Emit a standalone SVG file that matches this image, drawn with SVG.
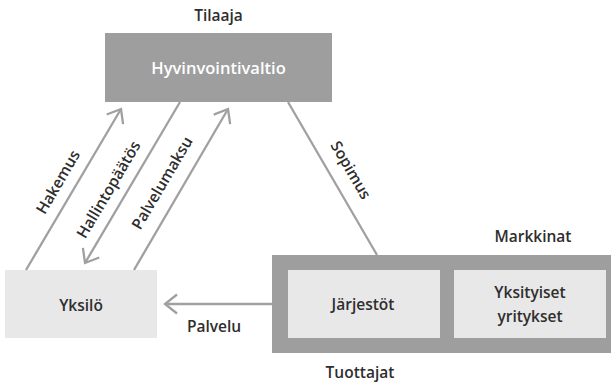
<svg xmlns="http://www.w3.org/2000/svg" width="611" height="385" viewBox="0 0 611 385">
  <style>
    text { font-family: "Open Sans", "Noto Sans", "DejaVu Sans", sans-serif; font-size: 15.5px; font-weight: 600; fill: #2e2e2e; text-anchor: middle; }
    .dark { fill: #9e9e9f; }
    .light { fill: #e8e8e8; }
    .white { fill: #ffffff; font-size: 16.5px; font-weight: 600; }
    .conn { stroke: #a0a0a1; stroke-width: 2.3; fill: none; }
  </style>
  <defs>
    <marker id="arr" markerUnits="userSpaceOnUse" markerWidth="30" markerHeight="30" refX="15" refY="15" orient="auto" viewBox="0 0 30 30">
      <path d="M 3 5.5 L 15 15 L 3 24.5" fill="none" stroke="#a0a0a1" stroke-width="2.3"/>
    </marker>
  </defs>

  <g id="tilaaja-label"><text x="218.5" y="21">Tilaaja</text></g>

  <g id="hyvinvointivaltio">
    <rect class="dark" x="105" y="33" width="227" height="69"/>
    <text class="white" x="218.5" y="74">Hyvinvointivaltio</text>
  </g>

  <g id="yksilo">
    <rect class="light" x="5" y="270" width="152" height="68"/>
    <text x="81" y="311">Yksilö</text>
  </g>

  <g id="tuottajat">
    <rect class="dark" x="272" y="255" width="350" height="98"/>
    <text x="360" y="378">Tuottajat</text>
  </g>

  <g id="markkinat-label"><text x="533" y="242">Markkinat</text></g>

  <g id="jarjestot">
    <rect class="light" x="288" y="270" width="152" height="68"/>
    <text x="363" y="310">Järjestöt</text>
  </g>

  <g id="yksityiset">
    <rect class="light" x="454" y="270" width="152" height="68"/>
    <text x="530" y="298">Yksityiset</text>
    <text x="530" y="322">yritykset</text>
  </g>

  <g id="connectors">
    <line class="conn" x1="26" y1="270" x2="121" y2="109" marker-end="url(#arr)"/>
    <line class="conn" x1="180" y1="102" x2="85" y2="263" marker-end="url(#arr)"/>
    <line class="conn" x1="134" y1="270" x2="228" y2="109" marker-end="url(#arr)"/>
    <line class="conn" x1="288" y1="102" x2="377" y2="255"/>
    <line class="conn" x1="272" y1="304" x2="165" y2="304" marker-end="url(#arr)"/>
    <text transform="translate(58,182) rotate(-59.5)" y="5.5">Hakemus</text>
    <text transform="translate(108.5,189.5) rotate(-59.5)" y="5.5">Hallintopäätös</text>
    <text transform="translate(162,183) rotate(-59.5)" y="5.5">Palvelumaksu</text>
    <text transform="translate(351,170) rotate(59.8)" y="5.5">Sopimus</text>
    <text x="214" y="332">Palvelu</text>
  </g>
</svg>
